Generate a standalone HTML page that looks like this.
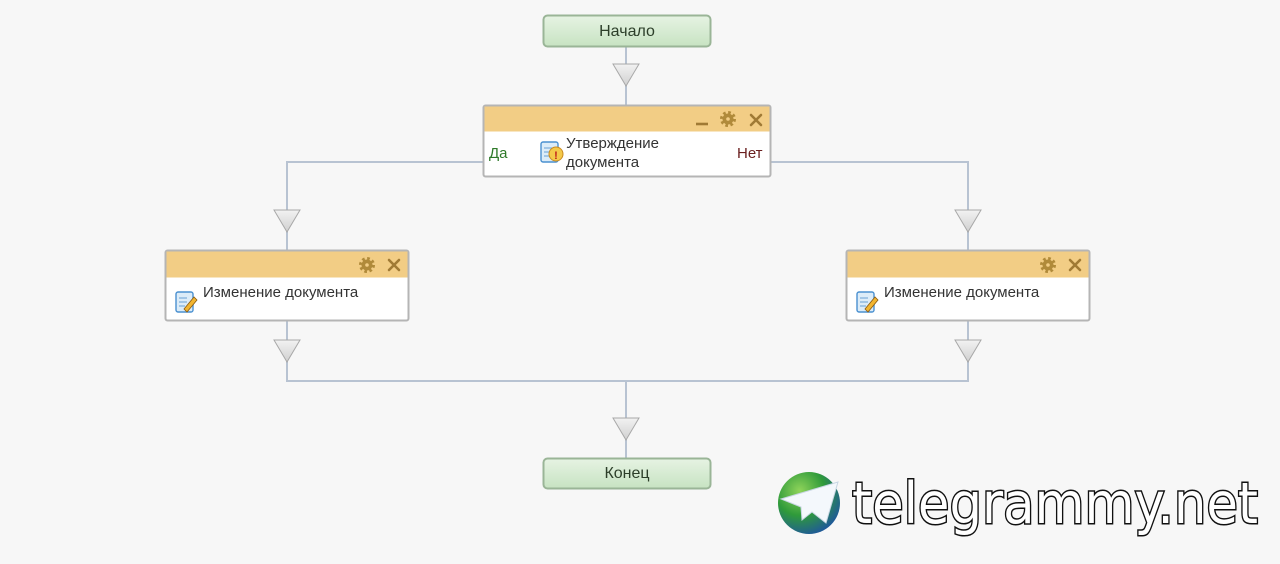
<!DOCTYPE html>
<html><head><meta charset="utf-8"><style>
html,body{margin:0;padding:0;background:#f7f7f7;}
svg{display:block;font-family:"Liberation Sans","DejaVu Sans",sans-serif;}
</style></head><body>
<svg width="1280" height="564" viewBox="0 0 1280 564" xmlns="http://www.w3.org/2000/svg">
<defs>
<linearGradient id="g" x1="0" y1="0" x2="0" y2="1"><stop offset="0" stop-color="#e6f3e3"/><stop offset="1" stop-color="#c7e3c2"/></linearGradient>
<linearGradient id="tri" x1="0" y1="0" x2="0" y2="1"><stop offset="0" stop-color="#f2f2f2"/><stop offset="1" stop-color="#d0d0d0"/></linearGradient>
<radialGradient id="globe" cx="0.35" cy="0.3" r="0.8"><stop offset="0" stop-color="#8fd45a"/><stop offset="0.5" stop-color="#2f9a3a"/><stop offset="1" stop-color="#1d4fa8"/></radialGradient>
<g id="t"><polygon points="-13,0 13,0 0,22" fill="url(#tri)" stroke="#a8a8a8" stroke-width="1"/></g>
<g id="gear"><circle r="5.5" fill="#b08a3a"/><circle r="6.5" fill="none" stroke="#b08a3a" stroke-width="3" stroke-dasharray="2.6 2.5"/><circle r="1.8" fill="#f2cd85"/></g>
<g id="x"><path d="M-5,-5L5,5M5,-5L-5,5" stroke="#a07a35" stroke-width="2.6" stroke-linecap="round"/></g>
<g id="doc"><rect x="0" y="0" width="17" height="20" rx="2" fill="#dcecf8" stroke="#4a90d0" stroke-width="1.4"/><path d="M3,6h8M3,10h8M3,14h6" stroke="#7fb0dc" stroke-width="1.2"/></g>
</defs>
<g stroke="#b8c3d2" stroke-width="2" fill="none">
<path d="M626,46V105"/>
<path d="M483,162H287V250"/>
<path d="M771,162H968V250"/>
<path d="M287,321V381H968V321"/>
<path d="M626,381V458"/>
</g>
<use href="#t" x="626" y="64"/>
<use href="#t" x="287" y="210"/>
<use href="#t" x="968" y="210"/>
<use href="#t" x="287" y="340"/>
<use href="#t" x="968" y="340"/>
<use href="#t" x="626" y="418"/>
<rect x="543.5" y="15.5" width="167" height="31" rx="4" fill="url(#g)" stroke="#9ab597" stroke-width="2"/>
<text x="627" y="36" font-size="16" text-anchor="middle" fill="#2d3f2a">Начало</text>
<rect x="543.5" y="458.5" width="167" height="30" rx="4" fill="url(#g)" stroke="#9ab597" stroke-width="2"/>
<text x="627" y="478" font-size="16" text-anchor="middle" fill="#2d3f2a">Конец</text>
<rect x="483.5" y="105.5" width="287" height="71" rx="2" fill="#fff" stroke="#b5b5b5" stroke-width="2"/>
<rect x="484.5" y="106.5" width="285" height="25" fill="#f2cd85"/>
<path d="M696,124h12" stroke="#a07a35" stroke-width="2.6"/>
<use href="#gear" x="728" y="119"/>
<use href="#x" x="756" y="120"/>
<text x="489" y="158" font-size="15" fill="#2f7a2a">Да</text>
<text x="737" y="158" font-size="15" fill="#6a1f1f">Нет</text>
<use href="#doc" x="541" y="142"/>
<circle cx="556" cy="154" r="7" fill="#f4c94a" stroke="#c98a20"/><text x="556" y="159" font-size="11" font-weight="bold" text-anchor="middle" fill="#c0201a">!</text>
<text x="566" y="148" font-size="15" fill="#333">Утверждение</text>
<text x="566" y="167" font-size="15" fill="#333">документа</text>
<rect x="165.5" y="250.5" width="243" height="70" rx="2" fill="#fff" stroke="#b5b5b5" stroke-width="2"/>
<rect x="166.5" y="251.5" width="241" height="26" fill="#f2cd85"/>
<use href="#gear" x="367" y="265"/>
<use href="#x" x="394" y="265"/>
<use href="#doc" x="176" y="292"/>
<path d="M184,309l10,-12 3,3 -10,12z" fill="#f2b530" stroke="#8a5a10" stroke-width="0.8"/>
<text x="203" y="297" font-size="15" fill="#333">Изменение документа</text>
<rect x="846.5" y="250.5" width="243" height="70" rx="2" fill="#fff" stroke="#b5b5b5" stroke-width="2"/>
<rect x="847.5" y="251.5" width="241" height="26" fill="#f2cd85"/>
<use href="#gear" x="1048" y="265"/>
<use href="#x" x="1075" y="265"/>
<use href="#doc" x="857" y="292"/>
<path d="M865,309l10,-12 3,3 -10,12z" fill="#f2b530" stroke="#8a5a10" stroke-width="0.8"/>
<text x="884" y="297" font-size="15" fill="#333">Изменение документа</text>
<circle cx="809" cy="503" r="31" fill="url(#globe)"/>
<polygon points="781,499 838,482 826,523 812,512 802,520 801,507" fill="#f4f8fc" stroke="#c8d6e4"/>
<text x="852" y="523" font-size="57" font-family="'DejaVu Sans',sans-serif" fill="#fff" stroke="#111" stroke-width="3" paint-order="stroke" textLength="406" lengthAdjust="spacingAndGlyphs">telegrammy.net</text>
</svg>
</body></html>
